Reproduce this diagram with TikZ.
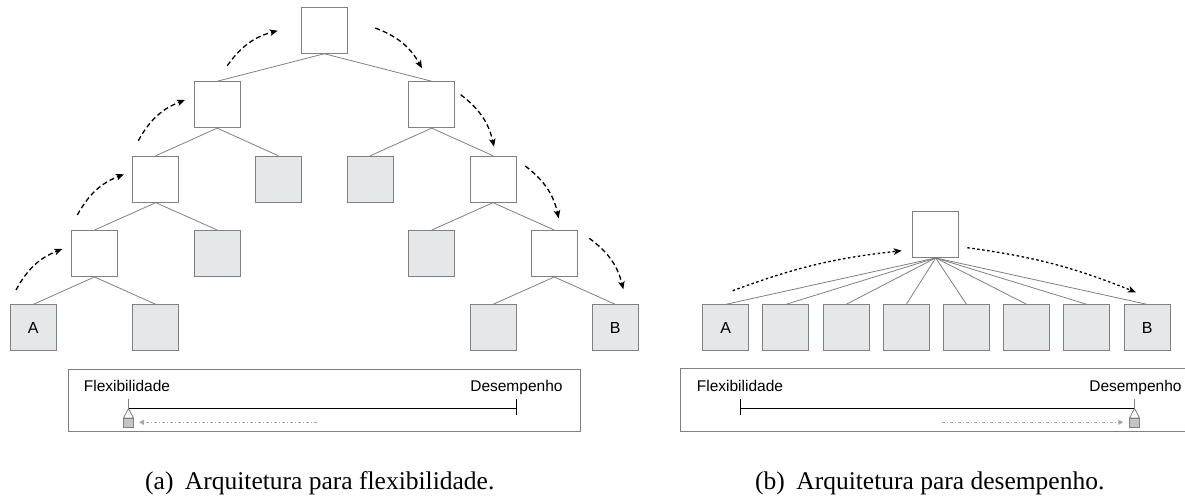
\documentclass[tikz,border=0pt]{standalone}
\usepackage{fontspec}
\setmainfont{Liberation Serif}
\setsansfont{Liberation Sans}
\usetikzlibrary{arrows.meta,calc}
\definecolor{boxline}{HTML}{808080}
\definecolor{leaffill}{HTML}{E6E7E8}
\definecolor{markfill}{HTML}{C4C4C4}
\definecolor{hintgray}{HTML}{A8A8A8}
\begin{document}
\begin{tikzpicture}[x=1pt,y=-1pt,
  box/.style={draw=boxline,line width=0.9pt,minimum width=46pt,minimum height=46pt,inner sep=0pt,fill=white,font=\sffamily\fontsize{16}{18}\selectfont},
  leaf/.style={box,fill=leaffill},
  edge/.style={draw=boxline,line width=0.8pt},
  hop/.style={black,line width=1.3pt,dash pattern=on 5pt off 3pt,-{Stealth[length=8pt,width=6.5pt,inset=2pt]},bend left=20},
  hopdot/.style={black,line width=1.3pt,dash pattern=on 2.5pt off 2.5pt,-{Stealth[length=8pt,width=6.5pt,inset=2pt]},bend left=7},
  panel/.style={draw=boxline,line width=0.9pt},
  lbl/.style={font=\sffamily\fontsize{15.5}{18}\selectfont,inner sep=0pt},
  captext/.style={font=\fontsize{25.5}{30}\selectfont,inner sep=0pt},
  scaleline/.style={black,line width=0.9pt},
  hint/.style={hintgray,line width=0.9pt,dash pattern=on 3pt off 2pt on 1pt off 2pt,-{Triangle[length=5pt,width=5pt]}},
  pointer/.style={draw=boxline,line width=0.8pt}
]
\useasboundingbox (0,0) rectangle (1185,497);

% ---------- (a) tree ----------
\node[box] (r) at (324.3,30.3) {};
\node[box] (l2) at (217.2,104.7) {};
\node[box] (r2) at (431.7,104.7) {};
\node[box] (l3) at (155.8,179.2) {};
\node[leaf] (l3g) at (278.3,179.2) {};
\node[leaf] (r3g) at (370.3,179.2) {};
\node[box] (r3) at (493,179.2) {};
\node[box] (l4) at (94.5,253.5) {};
\node[leaf] (l4g) at (217.2,253.5) {};
\node[leaf] (r4g) at (431.7,253.5) {};
\node[box] (r4) at (554.3,253.5) {};
\node[leaf] (A) at (33.3,327.8) {A};
\node[leaf] (l5g) at (155.8,327.8) {};
\node[leaf] (r5g) at (493,327.8) {};
\node[leaf] (B) at (615.3,327.8) {B};

\draw[edge] (r.south) -- (l2.north);
\draw[edge] (r.south) -- (r2.north);
\draw[edge] (l2.south) -- (l3.north);
\draw[edge] (l2.south) -- (l3g.north);
\draw[edge] (r2.south) -- (r3g.north);
\draw[edge] (r2.south) -- (r3.north);
\draw[edge] (l3.south) -- (l4.north);
\draw[edge] (l3.south) -- (l4g.north);
\draw[edge] (r3.south) -- (r4g.north);
\draw[edge] (r3.south) -- (r4.north);
\draw[edge] (l4.south) -- (A.north);
\draw[edge] (l4.south) -- (l5g.north);
\draw[edge] (r4.south) -- (r5g.north);
\draw[edge] (r4.south) -- (B.north);

% climbing arrows
\coordinate (u1s) at (16,290);     \coordinate (u1e) at (62.3,249);
\coordinate (u2s) at (77.3,215);   \coordinate (u2e) at (124,174.3);
\coordinate (u3s) at (138.3,140.7);\coordinate (u3e) at (185,100);
\coordinate (u4s) at (227.3,65.7); \coordinate (u4e) at (277.7,30.7);
\coordinate (d1s) at (375.3,28);   \coordinate (d1e) at (422,68.3);
\coordinate (d2s) at (460.7,94.7); \coordinate (d2e) at (494,146.7);
\coordinate (d3s) at (525.3,166);  \coordinate (d3e) at (558.7,218.3);
\coordinate (d4s) at (589.3,238.3);\coordinate (d4e) at (623.3,289.3);
\foreach \n in {u1,u2,u3,u4,d1,d2,d3,d4}
  \draw[hop] (\n s) to (\n e);

% ---------- (b) tree ----------
\node[box] (t) at (935.7,234.5) {};
\node[leaf] (b1) at (725.7,327.8) {A};
\node[leaf] (b2) at (785.9,327.8) {};
\node[leaf] (b3) at (846.1,327.8) {};
\node[leaf] (b4) at (906.3,327.8) {};
\node[leaf] (b5) at (966.5,327.8) {};
\node[leaf] (b6) at (1026.7,327.8) {};
\node[leaf] (b7) at (1086.9,327.8) {};
\node[leaf] (b8) at (1147.1,327.8) {B};
\foreach \k in {1,...,8}
  \draw[edge] (t.south) -- (b\k.north);

\coordinate (p1s) at (732.7,290.7);  \coordinate (p1e) at (901.7,250.7);
\coordinate (p2s) at (967.3,247.7);  \coordinate (p2e) at (1136,292.3);
\draw[hopdot] (p1s) to (p1e);
\draw[hopdot] (p2s) to (p2e);

% ---------- (a) scale panel ----------
\draw[panel] (68.5,369) rectangle (580,431.7);
\node[lbl,anchor=base west] (fa) at (83.7,391.7) {Flexibilidade};
\node[lbl,anchor=base east] (da) at (562.7,391.7) {Desempenho};
\coordinate (sa1) at (128.5,408.5);
\coordinate (sa2) at (516.7,408.5);
\draw[scaleline] (sa1) -- (sa2);
\draw[scaleline] ($(sa2)+(0,-10)$) -- ($(sa2)+(0,6.5)$);
\draw[pointer] ($(sa1)+(0,-9.5)$) -- (sa1);
\draw[pointer,fill=white] (sa1) -- ++(-5,9.5) -- ++(10,0) -- cycle;
\draw[pointer,fill=markfill] ($(sa1)+(-5,9.5)$) rectangle ($(sa1)+(5,18.8)$);
\coordinate (ha1) at (316.7,422.3);
\coordinate (ha2) at (139,422.3);
\draw[hint] (ha1) -- (ha2);

% ---------- (b) scale panel ----------
\draw[panel] (1190,368.5) -- (680,368.5) -- (680,431.7) -- (1190,431.7);
\node[lbl,anchor=base west] (fb) at (696.7,391.7) {Flexibilidade};
\node[lbl,anchor=base east] (db) at (1181.7,391.7) {Desempenho};
\coordinate (sb1) at (740.7,408.5);
\coordinate (sb2) at (1134.5,408.5);
\draw[scaleline] (sb1) -- (sb2);
\draw[scaleline] ($(sb1)+(0,-10)$) -- ($(sb1)+(0,6.5)$);
\draw[pointer] ($(sb2)+(0,-9.5)$) -- (sb2);
\draw[pointer,fill=white] (sb2) -- ++(-5,9.5) -- ++(10,0) -- cycle;
\draw[pointer,fill=markfill] ($(sb2)+(-5,9.5)$) rectangle ($(sb2)+(5,18.8)$);
\coordinate (hb1) at (941.7,422.3);
\coordinate (hb2) at (1123.3,422.3);
\draw[hint] (hb1) -- (hb2);

% ---------- captions ----------
\node[captext,anchor=base west] (capa) at (145,489.5) {(a)\hspace{0.45em}Arquitetura para flexibilidade.};
\node[captext,anchor=base west] (capb) at (755,489.5) {(b)\hspace{0.45em}Arquitetura para desempenho.};
\end{tikzpicture}
\end{document}
